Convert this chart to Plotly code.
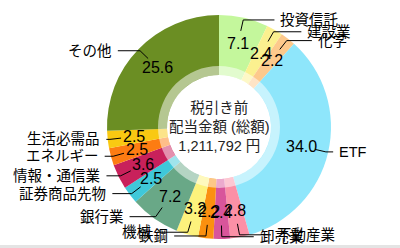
import math
import plotly.graph_objects as go

# ---- data ----
labels = ["投資信託", "建設業", "化学", "ETF", "不動産業", "卸売業", "鉄鋼", "機械",
          "銀行業", "証券商品先物", "情報・通信業", "エネルギー", "生活必需品", "その他"]
values = [7.1, 2.4, 2.2, 34.0, 2.8, 2.4, 2.2, 3.2, 7.2, 2.5, 3.6, 2.5, 2.5, 25.6]
colors = ["#c4f79c", "#fbf08f", "#fdc98c", "#8ee6fb", "#fb90a6", "#d8559b", "#fb900f",
          "#fdf27c", "#69a887", "#3fc8d9", "#c8215b", "#fd7c12", "#f9c912", "#6b8e23"]
center_lines = ["税引き前", "配当金額 (総額)", "1,211,792 円"]

# ---- layout geometry (pixels) ----
W, H = 400, 248
CX, CY, R = 219, 127, 112
HOLE_R = 52
RIM_R = 61
FONT = "Liberation Sans, Noto Sans CJK JP"

def px(x):
    return x / W

def py(y):
    return 1 - y / H

fig = go.Figure()
fig.add_trace(go.Pie(
    labels=labels, values=values, sort=False, direction="clockwise", rotation=0,
    hole=HOLE_R / R, marker=dict(colors=colors, line=dict(width=0)),
    textinfo="none", hoverinfo="label+value", showlegend=False,
    domain=dict(x=[px(CX - R), px(CX + R)], y=[py(CY + R), py(CY - R)]),
))
# translucent inner rim
fig.add_trace(go.Pie(
    values=[1], sort=False, hole=HOLE_R / RIM_R,
    marker=dict(colors=["rgba(255,255,255,0.5)"], line=dict(width=0)),
    textinfo="none", hoverinfo="skip", showlegend=False,
    domain=dict(x=[px(CX - RIM_R), px(CX + RIM_R)], y=[py(CY + RIM_R), py(CY - RIM_R)]),
))

total = sum(values)
cum = 0.0
annotations = []
shapes = []
for lab, val in zip(labels, values):
    mid = (cum + val / 2) / total * 2 * math.pi
    cum += val
    sx, sy = math.sin(mid), -math.cos(mid)  # screen direction (y down)
    # value text
    vr = 0.76 * R
    annotations.append(dict(x=px(CX + vr * sx), y=py(CY + vr * sy), xref="paper", yref="paper",
                            text=f"{val:.1f}", showarrow=False, xanchor="center", yanchor="middle",
                            font=dict(family=FONT, size=16, color="#000")))
    # leader line
    x0, y0 = CX + 0.88 * R * sx, CY + 0.88 * R * sy
    x1, y1 = CX + 0.98 * R * sx, CY + 0.98 * R * sy
    L = 32 * abs(math.cos(mid))
    side = 1 if sx >= 0 else -1
    x2 = x1 + side * L
    shapes.append(dict(type="path", xref="paper", yref="paper",
                       path=f"M {px(x0)} {py(y0)} L {px(x1)} {py(y1)} L {px(x2)} {py(y1)}",
                       line=dict(color="#000", width=1)))
    annotations.append(dict(x=px(x2 + side * 4), y=py(y1), xref="paper", yref="paper",
                            text=lab, showarrow=False,
                            xanchor="left" if side > 0 else "right", yanchor="middle",
                            font=dict(family=FONT, size=14.5, color="#000")))

annotations.append(dict(x=px(CX), y=py(CY), xref="paper", yref="paper",
                        text="<br>".join(center_lines), showarrow=False,
                        xanchor="center", yanchor="middle", align="center",
                        font=dict(family=FONT, size=14.5, color="#222")))

shapes.insert(0, dict(type="rect", xref="paper", yref="paper", x0=0, x1=1, y0=0, y1=py(245),
                      fillcolor="#e4e4e4", line=dict(width=0), layer="below"))

fig.update_layout(width=W, height=H, margin=dict(l=0, r=0, t=0, b=0),
                  paper_bgcolor="white", plot_bgcolor="white",
                  annotations=annotations, shapes=shapes, showlegend=False)
fig.write_html("out.html")
